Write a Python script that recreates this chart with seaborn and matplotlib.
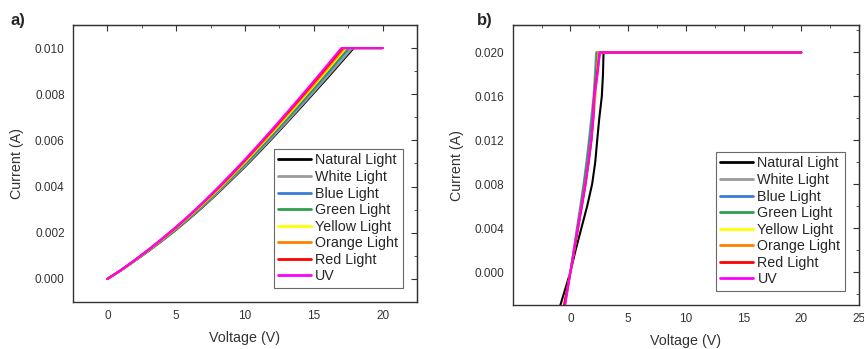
import numpy as np
import pandas as pd
import matplotlib
matplotlib.use("Agg")
import matplotlib.pyplot as plt
import seaborn as sns
from matplotlib.ticker import AutoMinorLocator

sns.set_style("white")
plt.rcParams['font.family'] = ['Liberation Sans', 'DejaVu Sans']

# series names and colours
names = ['Natural Light', 'White Light', 'Blue Light', 'Green Light',
         'Yellow Light', 'Orange Light', 'Red Light', 'UV']
colors = ['#000000', '#9a9a9a', '#3a7dd8', '#2e9e4f',
          '#ffff00', '#ff8000', '#ff0000', '#ff00ff']

# panel a: voltage grid (V), currents (A)
volt_a = [0, 1, 2, 3, 4, 5, 6, 7, 8, 9, 10, 11, 12, 13, 14, 15, 16, 17]
cur_a = {
    'Natural Light': [0, .00037, .00078, .00121, .00166, .00213, .00263, .00315, .00370,
                      .00428, .00486, .00547, .00610, .00674, .00739, .00805, .00871, .00939],
    'White Light':   [0, .00037, .00078, .00122, .00167, .00214, .00265, .00317, .00372,
                      .00431, .00489, .00551, .00614, .00678, .00744, .00810, .00877, .00945],
    'Blue Light':    [0, .00038, .00079, .00123, .00169, .00217, .00268, .00321, .00378,
                      .00437, .00496, .00559, .00623, .00688, .00754, .00822, .00889, .00959],
    'Green Light':   [0, .00038, .00080, .00124, .00170, .00218, .00270, .00323, .00380,
                      .00439, .00499, .00562, .00627, .00692, .00759, .00827, .00895, .00965],
    'Yellow Light':  [0, .00038, .00080, .00125, .00172, .00221, .00273, .00327, .00384,
                      .00444, .00505, .00569, .00634, .00700, .00768, .00836, .00905, .00976],
    'Orange Light':  [0, .00038, .00081, .00126, .00173, .00222, .00275, .00329, .00387,
                      .00447, .00509, .00573, .00639, .00706, .00774, .00842, .00912, .00983],
    'Red Light':     [0, .00039, .00082, .00127, .00175, .00224, .00277, .00333, .00391,
                      .00451, .00514, .00579, .00645, .00713, .00781, .00851, .00921, .00993],
    'UV':            [0, .00039, .00082, .00128, .00176, .00226, .00279, .00335, .00394,
                      .00455, .00518, .00583, .00650, .00718, .00787, .00857, .00928, .01000],
}
# voltage where each curve reaches the 0.010 A compliance
sat_a = [17.9, 17.8, 17.6, 17.5, 17.35, 17.25, 17.1, 17.0]
limit_a = 0.010
v_end = 20

# panel b: current grid (A), voltages (V)
cur_b = [-0.003, 0.0, 0.002, 0.004, 0.006, 0.008, 0.010, 0.012, 0.014, 0.016, 0.018, 0.020]
volt_b = {
    'Natural Light': [-0.87, 0.0, 0.45, 0.95, 1.45, 1.88, 2.15, 2.32, 2.50, 2.72, 2.82, 2.87],
    'White Light':   [-0.55, 0.0, 0.28, 0.56, 0.85, 1.13, 1.38, 1.60, 1.80, 2.00, 2.12, 2.22],
    'Blue Light':    [-0.50, 0.0, 0.30, 0.60, 0.90, 1.18, 1.43, 1.65, 1.86, 2.05, 2.18, 2.30],
    'Green Light':   [-0.50, 0.0, 0.31, 0.62, 0.92, 1.20, 1.46, 1.70, 1.90, 2.10, 2.22, 2.35],
    'Yellow Light':  [-0.48, 0.0, 0.33, 0.66, 0.98, 1.30, 1.56, 1.80, 1.98, 2.15, 2.30, 2.45],
    'Orange Light':  [-0.48, 0.0, 0.33, 0.66, 1.00, 1.32, 1.58, 1.82, 2.00, 2.15, 2.30, 2.45],
    'Red Light':     [-0.55, 0.0, 0.33, 0.66, 0.99, 1.30, 1.57, 1.82, 1.98, 2.05, 2.30, 2.55],
    'UV':            [-0.45, 0.0, 0.32, 0.64, 0.97, 1.30, 1.56, 1.80, 1.96, 2.07, 2.35, 2.55],
}
limit_b = 0.020

fig = plt.figure(figsize=(8.64, 3.49), dpi=100)
ax1 = fig.add_axes([0.0845, 0.1347, 0.3981, 0.7937])
ax2 = fig.add_axes([0.5934, 0.1260, 0.4008, 0.8024])

for name, col, vs in zip(names, colors, sat_a):
    d = pd.DataFrame({'V': volt_a + [vs, v_end],
                      'I': cur_a[name] + [limit_a, limit_a]})
    sns.lineplot(data=d, x='V', y='I', ax=ax1, color=col, lw=1.5,
                 sort=False, estimator=None, label=name)

for name, col in zip(names, colors):
    d = pd.DataFrame({'V': volt_b[name] + [v_end],
                      'I': cur_b + [limit_b]})
    sns.lineplot(data=d, x='V', y='I', ax=ax2, color=col, lw=1.5,
                 sort=False, estimator=None, label=name)


def style(ax, xlim, ylim, yticks, fmt):
    ax.set_xlim(*xlim)
    ax.set_ylim(*ylim)
    ax.set_xticks(range(0, int(xlim[1]) + 1, 5))
    ax.set_yticks(yticks)
    ax.set_yticklabels([fmt % t for t in yticks])
    ax.xaxis.set_minor_locator(AutoMinorLocator(2))
    ax.yaxis.set_minor_locator(AutoMinorLocator(2))
    ax.tick_params(which='major', direction='out', length=4, width=0.9,
                   labelsize=8.5, color='#333333', labelcolor='#333333', pad=2)
    ax.tick_params(which='minor', direction='out', length=2.5, width=0.8,
                   color='#333333')
    for s in ax.spines.values():
        s.set_color('#333333')
        s.set_linewidth(1.0)
    top = ax.secondary_xaxis('top')
    top.set_xticks(ax.get_xticks())
    top.xaxis.set_minor_locator(AutoMinorLocator(2))
    top.tick_params(which='both', direction='in', labeltop=False, color='#333333')
    top.tick_params(which='major', length=4)
    top.tick_params(which='minor', length=2.5)
    right = ax.secondary_yaxis('right')
    right.set_yticks(yticks)
    right.yaxis.set_minor_locator(AutoMinorLocator(2))
    right.tick_params(which='both', direction='in', labelright=False, color='#333333')
    right.tick_params(which='major', length=4)
    right.tick_params(which='minor', length=2.5)
    ax.set_xlabel('Voltage (V)', fontsize=10.3, color='#333333', labelpad=6)
    ax.set_ylabel('Current (A)', fontsize=10.3, color='#333333', labelpad=8)
    leg = ax.legend(loc='lower right', fontsize=10.3, handlelength=2.3,
                    handletextpad=0.3, labelspacing=0.18, borderpad=0.3,
                    frameon=True, fancybox=False, borderaxespad=1.0)
    leg.get_frame().set_edgecolor('#444444')
    leg.get_frame().set_linewidth(0.8)
    for ln in leg.get_lines():
        ln.set_linewidth(2)


style(ax1, (-2.5, 22.5), (-0.001, 0.011),
      [0, 0.002, 0.004, 0.006, 0.008, 0.010], '%.3f')
style(ax2, (-5, 25), (-0.003, 0.0225),
      [0, 0.004, 0.008, 0.012, 0.016, 0.020], '%.3f')

fig.text(0.012, 0.94, 'a)', fontsize=12, fontweight='bold', va='center')
fig.text(0.552, 0.94, 'b)', fontsize=12, fontweight='bold', va='center')

fig.savefig('out.png', dpi=100)
